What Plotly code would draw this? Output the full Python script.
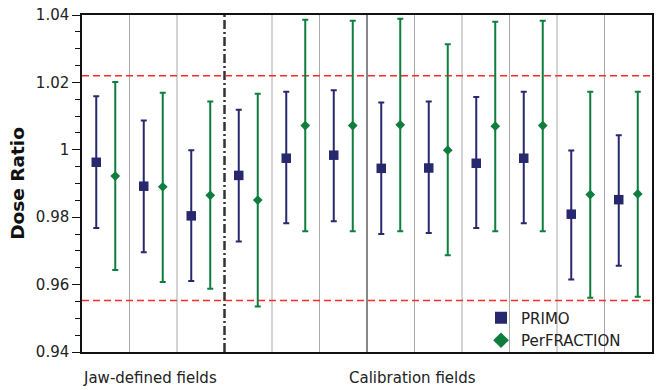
import plotly.graph_objects as go

groups = list(range(1, 13))

primo = [0.9963, 0.9892, 0.9804, 0.9924, 0.9975, 0.9984, 0.9945, 0.9946, 0.9960, 0.9975, 0.9809, 0.9852]
primo_hi = [1.0159, 1.0087, 0.9999, 1.0119, 1.0172, 1.0177, 1.0140, 1.0143, 1.0157, 1.0172, 0.9998, 1.0043]
primo_lo = [0.9768, 0.9696, 0.9611, 0.9728, 0.9782, 0.9788, 0.9750, 0.9753, 0.9768, 0.9782, 0.9615, 0.9656]

perf = [0.9922, 0.9890, 0.9865, 0.9851, 1.0072, 1.0072, 1.0074, 0.9999, 1.0070, 1.0072, 0.9867, 0.9869]
perf_hi = [1.0201, 1.0169, 1.0143, 1.0166, 1.0386, 1.0383, 1.0389, 1.0313, 1.0380, 1.0383, 1.0172, 1.0172]
perf_lo = [0.9643, 0.9608, 0.9588, 0.9535, 0.9758, 0.9758, 0.9758, 0.9687, 0.9758, 0.9758, 0.9561, 0.9564]

limits = [1.022, 0.9553]
grid_separators = [1.5, 2.5, 4.5, 5.5, 7.5, 8.5, 9.5, 10.5, 11.5]
dashdot_separator = 3.5
solid_separator = 6.5

ytick_vals = [0.94, 0.96, 0.98, 1.00, 1.02, 1.04]
ytick_text = ["0.94", "0.96", "0.98", "1", "1.02", "1.04"]

section_labels = ["Jaw-defined fields", "Calibration fields"]
section_pos = [1.93, 7.46]

offset = 0.2
navy = "#28286F"
green = "#0F7D3D"
font_family = "DejaVu Sans, Verdana, sans-serif"

fig = go.Figure()

fig.add_trace(go.Scatter(
    x=[g - offset for g in groups], y=primo, mode="markers", name="PRIMO",
    marker=dict(symbol="square", size=9.5, color=navy),
    error_y=dict(type="data", symmetric=False,
                 array=[h - v for h, v in zip(primo_hi, primo)],
                 arrayminus=[v - l for v, l in zip(primo, primo_lo)],
                 color=navy, thickness=2, width=3),
))
fig.add_trace(go.Scatter(
    x=[g + offset for g in groups], y=perf, mode="markers", name="PerFRACTION",
    marker=dict(symbol="diamond", size=7.5, color=green),
    error_y=dict(type="data", symmetric=False,
                 array=[h - v for h, v in zip(perf_hi, perf)],
                 arrayminus=[v - l for v, l in zip(perf, perf_lo)],
                 color=green, thickness=2, width=3),
))

shapes = []
for s in grid_separators:
    shapes.append(dict(type="line", xref="x", yref="paper", x0=s, x1=s, y0=0, y1=1,
                       line=dict(color="#AAAAAA", width=1), layer="below"))
shapes.append(dict(type="line", xref="x", yref="paper", x0=dashdot_separator, x1=dashdot_separator,
                   y0=0, y1=1, line=dict(color="#333333", width=2.5, dash="9px,3px,2px,3px"), layer="below"))
shapes.append(dict(type="line", xref="x", yref="paper", x0=solid_separator, x1=solid_separator,
                   y0=0, y1=1, line=dict(color="#111111", width=1), layer="below"))
for lim in limits:
    shapes.append(dict(type="line", xref="paper", yref="y", x0=0, x1=1, y0=lim, y1=lim,
                       line=dict(color="#FF2A2A", width=1.5, dash="7px,4px"), layer="below"))

annotations = []
for lab, pos in zip(section_labels, section_pos):
    annotations.append(dict(text=lab, x=pos, y=-0.078, xref="x", yref="paper",
                            xanchor="center", yanchor="middle",
                            showarrow=False, font=dict(size=15, color="#222222", family=font_family)))

fig.update_layout(
    width=660, height=390,
    margin=dict(l=82, r=6, t=11, b=38),
    paper_bgcolor="white", plot_bgcolor="white",
    font=dict(family=font_family, size=15, color="#222222"),
    showlegend=True,
    legend=dict(x=0.70, y=0.15, xanchor="left", yanchor="top", bgcolor="rgba(0,0,0,0)",
                font=dict(size=15), tracegroupgap=0, itemsizing="constant"),
    shapes=shapes,
    annotations=annotations,
    xaxis=dict(range=[0.5, 12.5], showgrid=False, zeroline=False, showticklabels=False,
               ticks="", showline=True, linecolor="#111111", linewidth=1.5, mirror=True),
    yaxis=dict(range=[0.94, 1.04], tickvals=ytick_vals, ticktext=ytick_text,
               showgrid=False, zeroline=False, ticks="outside", ticklen=8, tickwidth=1,
               tickcolor="#111111", showline=True, linecolor="#111111", linewidth=1.5, mirror=True,
               tickfont=dict(size=15),
               minor=dict(dtick=0.005, ticks="outside", ticklen=5, tickcolor="#111111", showgrid=False),
               title=dict(text="<b>Dose Ratio</b>", font=dict(size=18.5, color="#111111"), standoff=6)),
)

# remove the browser's default 8px body margin so the figure sits at the page's top-left corner
fig.write_html("out.html", config={"displayModeBar": False},
               post_script="document.body.style.margin='0px';")
